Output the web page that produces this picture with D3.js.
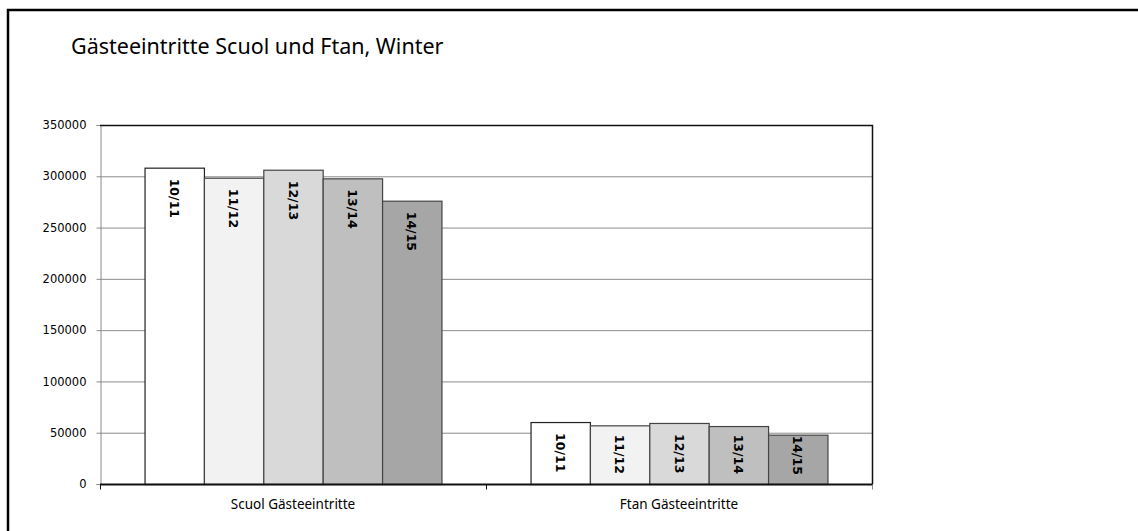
<!DOCTYPE html>
<html lang="de">
<head>
<meta charset="UTF-8">
<title>Gästeeintritte Scuol und Ftan</title>
<script src="https://cdn.jsdelivr.net/npm/d3@7"></script>
<style>
  html, body { margin: 0; padding: 0; background: #fff; }
  svg { display: block; }
  .tick text { font-family: "DejaVu Sans", Verdana, sans-serif; font-size: 11.5px; fill: #000; }
</style>
</head>
<body>
<svg id="chart" width="1138" height="531"></svg>
<script>
  const title = "Gästeeintritte Scuol und Ftan, Winter";
  const categories = ["Scuol Gästeeintritte", "Ftan Gästeeintritte"];
  const seasons = ["10/11", "11/12", "12/13", "13/14", "14/15"];
  const scuol = [308400, 298600, 306400, 298000, 276200];
  const ftan = [60400, 57200, 59500, 56500, 48100];
  const yTicks = [0, 50000, 100000, 150000, 200000, 250000, 300000, 350000];
  const fills = ["#ffffff", "#f2f2f2", "#d9d9d9", "#bfbfbf", "#a6a6a6"];

  const seriesByCat = [scuol, ftan];

  const svg = d3.select("#chart");
  const m = {left: 100, top: 125, right: 872, bottom: 484};

  // outer frame (only top and left visible)
  svg.append("path")
    .attr("d", "M8,540 L8,10 L1145,10")
    .attr("fill", "none")
    .attr("stroke", "#000")
    .attr("stroke-width", 2.5);

  svg.append("text")
    .attr("x", 71).attr("y", 54)
    .attr("font-family", "'Noto Sans', 'Open Sans', sans-serif")
    .attr("font-size", 21.5)
    .text(title);

  const y = d3.scaleLinear().domain([0, 350000]).range([m.bottom, m.top]);
  const x0 = d3.scaleBand().domain(categories).range([m.left, m.right]).paddingInner(0).paddingOuter(0);
  // gap width 150% -> 5 bars take 5/(5+1.5) of each category
  const groupW = x0.bandwidth() * 5 / 6.5;
  const x1 = d3.scaleBand().domain(seasons).range([0, groupW]);

  // gridlines
  svg.append("g").selectAll("line")
    .data(yTicks.filter(d => d > 0 && d < 350000))
    .join("line")
    .attr("x1", m.left).attr("x2", m.right)
    .attr("y1", d => y(d) + 0.5).attr("y2", d => y(d) + 0.5)
    .attr("stroke", "#8c8c8c").attr("stroke-width", 1);

  // y axis
  const yAxis = svg.append("g")
    .attr("transform", `translate(${m.left + 0.5},0)`)
    .call(d3.axisLeft(y).tickValues(yTicks).tickSize(4).tickPadding(10).tickFormat(d3.format("d")));
  yAxis.select(".domain").attr("stroke", "#8c8c8c");
  yAxis.selectAll(".tick line").attr("stroke", "#8c8c8c");

  // bars
  const groups = svg.append("g").selectAll("g")
    .data(categories)
    .join("g")
    .attr("transform", c => `translate(${x0(c) + (x0.bandwidth() - groupW) / 2},0)`);

  groups.selectAll("rect")
    .data((c, ci) => seasons.map((s, i) => ({s, i, v: seriesByCat[ci][i]})))
    .join("rect")
    .attr("x", d => x1(d.s) + 0.5)
    .attr("y", d => y(d.v) + 0.5)
    .attr("width", x1.bandwidth())
    .attr("height", d => y(0) - y(d.v))
    .attr("fill", d => fills[d.i])
    .attr("stroke", d => d.i === 0 ? "#222" : "#444")
    .attr("stroke-width", 1.2);

  // labels inside bar end, pushed up when the bar is too short
  groups.selectAll("text")
    .data((c, ci) => seasons.map((s, i) => ({s, i, v: seriesByCat[ci][i]})))
    .join("text")
    .attr("dy", "0.35em")
    .attr("font-family", "'DejaVu Sans', Verdana, sans-serif")
    .attr("font-weight", "bold")
    .attr("font-size", 12.5)
    .text(d => d.s)
    .attr("transform", function (d) {
      const len = this.getComputedTextLength();
      const start = Math.max(y(d.v) + 1, Math.min(y(d.v) + 11, y(0) - len - 10));
      return `translate(${x1(d.s) + x1.bandwidth() / 2},${start}) rotate(90)`;
    });

  // plot frame: top and right black
  svg.append("path")
    .attr("d", `M${m.left},${m.top + 0.5} L${m.right + 0.5},${m.top + 0.5} L${m.right + 0.5},${m.bottom}`)
    .attr("fill", "none").attr("stroke", "#111").attr("stroke-width", 1.5);

  // x axis
  const xAxis = svg.append("g")
    .attr("transform", `translate(0,${m.bottom + 0.5})`);
  xAxis.append("line")
    .attr("x1", m.left).attr("x2", m.right + 1)
    .attr("stroke", "#111").attr("stroke-width", 2);
  xAxis.selectAll("line.tk")
    .data([m.left, x0(categories[1]), m.right])
    .join("line")
    .attr("class", "tk")
    .attr("x1", d => d + 0.5).attr("x2", d => d + 0.5)
    .attr("y1", 0).attr("y2", 5)
    .attr("stroke", (d, i) => i === 2 ? "#888" : "#111");
  xAxis.selectAll("text")
    .data(categories)
    .join("text")
    .attr("x", c => x0(c) + x0.bandwidth() / 2)
    .attr("y", 24)
    .attr("text-anchor", "middle")
    .attr("font-family", "'Noto Sans', 'Open Sans', sans-serif")
    .attr("font-size", 13.5)
    .text(c => c);
</script>
</body>
</html>
